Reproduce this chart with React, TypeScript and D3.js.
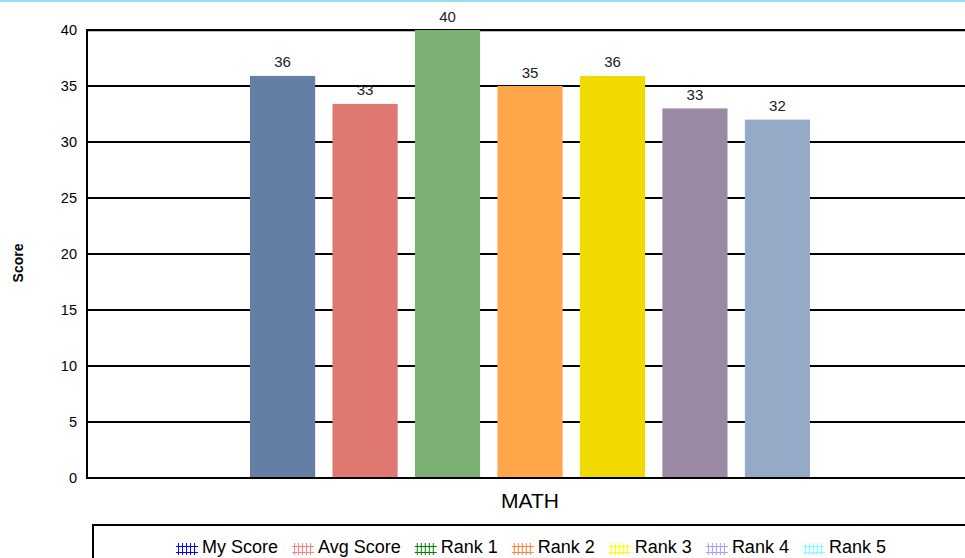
import React from "react";
import * as d3 from "d3";

const categories = ["MATH"];
const seriesNames = ["My Score", "Avg Score", "Rank 1", "Rank 2", "Rank 3", "Rank 4", "Rank 5"];
const seriesValues = [35.9, 33.4, 40, 35, 35.9, 33, 32];
const seriesLabels = ["36", "33", "40", "35", "36", "33", "32"];
const barColors = ["#647EA4", "#E07872", "#7BB173", "#FFA54A", "#F0DA00", "#9C8AA5", "#94AAC6"];
const legendColors = ["#0000FF", "#FF8080", "#008000", "#FF8040", "#FFFF00", "#A0A0FF", "#80FFFF"];
const yTicks = [0, 5, 10, 15, 20, 25, 30, 35, 40];

const W = 965;
const H = 558;
const plotLeft = 87;
const plotTop = 30;
const plotBottom = 478;
const FONT = "Arial, 'Liberation Sans', sans-serif";

function measure(s: string, size: number) {
  const c = document.createElement("canvas").getContext("2d");
  if (!c) return s.length * size * 0.55;
  c.font = `${size}px Arial, 'Liberation Sans', sans-serif`;
  return c.measureText(s).width;
}

export default function App() {
  const y = d3.scaleLinear().domain([0, 40]).range([plotBottom, plotTop]);
  const x = d3.scaleBand<string>().domain(seriesNames).range([250, 810]).paddingInner(0.21).paddingOuter(0);
  const catX = d3.scaleBand<string>().domain(categories).range([250, 810]);

  const legendFont = 18;
  const iconW = 22;
  const textOff = 26;
  const gap = 14;
  const widths = seriesNames.map((n) => measure(n, legendFont));
  const total = widths.reduce((a, w) => a + textOff + w, 0) + gap * (seriesNames.length - 1);
  let cursor = 531 - total / 2;
  const legendPos = widths.map((w) => {
    const x0 = cursor;
    cursor += textOff + w + gap;
    return x0;
  });

  return (
    <svg width={W} height={H} style={{ position: "absolute", left: 0, top: 0, background: "#fff" }} fontFamily={FONT}>
      <rect x={0} y={0} width={W} height={2} fill="#99DDF5" />
      {yTicks.map((t) => (
        <g key={t}>
          <line x1={plotLeft} x2={W} y1={y(t)} y2={y(t)} stroke="#000" strokeWidth={2} />
          <text x={77} y={y(t) + 5} textAnchor="end" fontSize={14.5} fill="#000">
            {t}
          </text>
        </g>
      ))}
      <line x1={plotLeft} x2={W} y1={plotTop + 1.5} y2={plotTop + 1.5} stroke="#bbb" strokeWidth={1} />
      {seriesNames.map((n, i) => (
        <g key={n}>
          <rect x={x(n)} y={y(seriesValues[i])} width={x.bandwidth()} height={plotBottom - y(seriesValues[i])} fill={barColors[i]} />
          <text x={(x(n) as number) + x.bandwidth() / 2} y={y(seriesValues[i]) - 8.5} textAnchor="middle" fontSize={15} fill="#222">
            {seriesLabels[i]}
          </text>
        </g>
      ))}
      <line x1={plotLeft} x2={plotLeft} y1={plotTop - 1} y2={plotBottom + 1} stroke="#000" strokeWidth={2} />
      <line x1={plotLeft} x2={W} y1={plotBottom} y2={plotBottom} stroke="#000" strokeWidth={2} />
      {categories.map((c) => (
        <text
          key={c}
          x={(catX(c) as number) + catX.bandwidth() / 2 - 29}
          y={508}
          fontSize={20}
          textLength={58}
          lengthAdjust="spacingAndGlyphs"
          fill="#000"
        >
          {c}
        </text>
      ))}
      <text transform={`translate(23,263) rotate(-90)`} textAnchor="middle" fontSize={14} fontWeight="bold" fill="#000">
        Score
      </text>
      <rect x={93} y={525} width={W} height={60} fill="none" stroke="#000" strokeWidth={2} />
      {seriesNames.map((n, i) => {
        const lx = legendPos[i];
        const col = legendColors[i];
        return (
          <g key={n}>
            {[0, 1, 2, 3, 4].map((k) => (
              <line key={k} x1={lx + 2.5 + k * 4} x2={lx + 2.5 + k * 4} y1={543} y2={555} stroke={col} strokeWidth={1} />
            ))}
            <line x1={lx} x2={lx + iconW} y1={546.5} y2={546.5} stroke={col} strokeWidth={1} />
            <line x1={lx} x2={lx + iconW} y1={552.5} y2={552.5} stroke={col} strokeWidth={1} />
            <text x={lx + textOff} y={553} fontSize={legendFont} fill="#000">
              {n}
            </text>
          </g>
        );
      })}
    </svg>
  );
}
